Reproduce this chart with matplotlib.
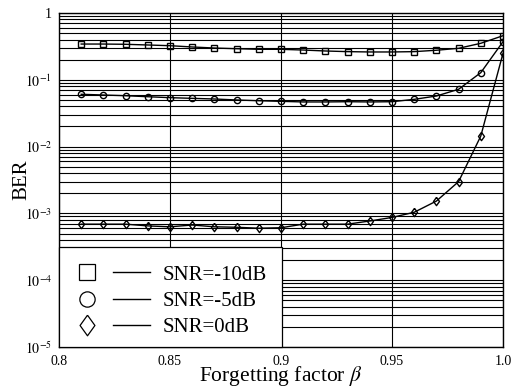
import matplotlib
matplotlib.use("Agg")
import matplotlib.pyplot as plt
from matplotlib.lines import Line2D
from matplotlib.legend_handler import HandlerBase
from matplotlib.ticker import FixedLocator, LogLocator, NullFormatter

plt.rcParams['font.family'] = ['Liberation Serif', 'DejaVu Serif']
plt.rcParams['mathtext.fontset'] = 'stix'

beta = [0.81, 0.82, 0.83, 0.84, 0.85, 0.86, 0.87, 0.88, 0.89, 0.90,
        0.91, 0.92, 0.93, 0.94, 0.95, 0.96, 0.97, 0.98, 0.99, 1.00]
ber_snr_m10 = [0.343, 0.343, 0.340, 0.332, 0.324, 0.310, 0.299, 0.292, 0.286, 0.286,
               0.279, 0.270, 0.264, 0.261, 0.261, 0.264, 0.277, 0.296, 0.352, 0.457]
ber_snr_m5 = [0.0607, 0.0592, 0.0578, 0.0558, 0.0540, 0.0528, 0.0516, 0.0499, 0.0486, 0.0476,
              0.0466, 0.0466, 0.0470, 0.0466, 0.0470, 0.0510, 0.0572, 0.0721, 0.128, 0.372]
ber_snr_0 = [6.9e-4, 6.9e-4, 6.9e-4, 6.5e-4, 6.3e-4, 6.7e-4, 6.3e-4, 6.2e-4, 6.0e-4, 6.1e-4,
             6.9e-4, 6.9e-4, 6.9e-4, 7.7e-4, 8.7e-4, 1.04e-3, 1.53e-3, 2.99e-3, 0.0144, 0.249]
labels = ['SNR=-10dB', 'SNR=-5dB', 'SNR=0dB']
diamond = [(0, 1), (0.72, 0), (0, -1), (-0.72, 0), (0, 1)]
markers = ['s', 'o', diamond]
x_ticks = [0.8, 0.85, 0.9, 0.95, 1.0]
x_ticklabels = ['0.8', '0.85', '0.9', '0.95', '1.0']
y_ticks = [1e-5, 1e-4, 1e-3, 1e-2, 1e-1, 1]
y_ticklabels = [r'$10^{-5}$', r'$10^{-4}$', r'$10^{-3}$', r'$10^{-2}$', r'$10^{-1}$', '1']


class MarkerThenLine(HandlerBase):
    def __init__(self, msize):
        super().__init__()
        self.msize = msize

    def create_artists(self, legend, orig_handle, xdescent, ydescent,
                       width, height, fontsize, trans):
        yc = height / 2 - ydescent
        mk = orig_handle.get_marker()
        ms = self.msize * (1.35 if not isinstance(mk, str) else 1.0)
        m = Line2D([-xdescent + 0.226 * width], [yc], linestyle='none',
                   marker=mk, markersize=ms,
                   markerfacecolor='none', markeredgecolor='black',
                   markeredgewidth=0.9, transform=trans)
        ln = Line2D([-xdescent + 0.545 * width, -xdescent + width], [yc, yc],
                    color='black', linewidth=1.0, transform=trans)
        return [m, ln]


fig = plt.figure(figsize=(5.15, 3.87), dpi=100)
ax = fig.add_axes([59 / 515, 40 / 387, 444 / 515, 334 / 387])

series = [ber_snr_m10, ber_snr_m5, ber_snr_0]
handles = []
for ys, mk, lab in zip(series, markers, labels):
    h, = ax.plot(beta, ys, color='black', linewidth=1.0, marker=mk,
                 markersize=4.5 if isinstance(mk, str) else 6.0,
                 markerfacecolor='none',
                 markeredgecolor='black', markeredgewidth=1.0, label=lab)
    handles.append(h)

ax.set_yscale('log')
ax.set_xlim(0.8, 1.0)
ax.set_ylim(1e-5, 1)
ax.xaxis.set_major_locator(FixedLocator(x_ticks))
ax.set_xticklabels(x_ticklabels)
ax.yaxis.set_major_locator(FixedLocator(y_ticks))
ax.set_yticklabels(y_ticklabels)
ax.yaxis.set_minor_locator(LogLocator(base=10, subs=range(2, 10), numticks=20))
ax.yaxis.set_minor_formatter(NullFormatter())

ax.grid(True, which='major', axis='x', color='black', linewidth=0.8)
ax.grid(True, which='both', axis='y', color='black', linewidth=0.8)
ax.tick_params(axis='both', which='both', length=0, labelsize=10)
ax.tick_params(axis='x', pad=6)
ax.tick_params(axis='y', pad=5)
for s in ax.spines.values():
    s.set_linewidth(1.0)
    s.set_color('black')

ax.set_xlabel(r'Forgetting factor $\beta$', fontsize=15.5, labelpad=-3)
ax.set_ylabel('BER', fontsize=15, labelpad=-5)

leg = ax.legend(handles, labels, loc='lower left', borderaxespad=0,
                bbox_to_anchor=(0, 0, 0.502, 0.3), mode='expand',
                fontsize=15, handler_map={Line2D: MarkerThenLine(11)},
                handlelength=3.91, handletextpad=0.58, borderpad=0.46,
                labelspacing=0.33, fancybox=False, framealpha=1,
                edgecolor='black', title=' ', title_fontsize=1)
leg.get_frame().set_linewidth(0.9)

fig.savefig('out.png', dpi=100)
